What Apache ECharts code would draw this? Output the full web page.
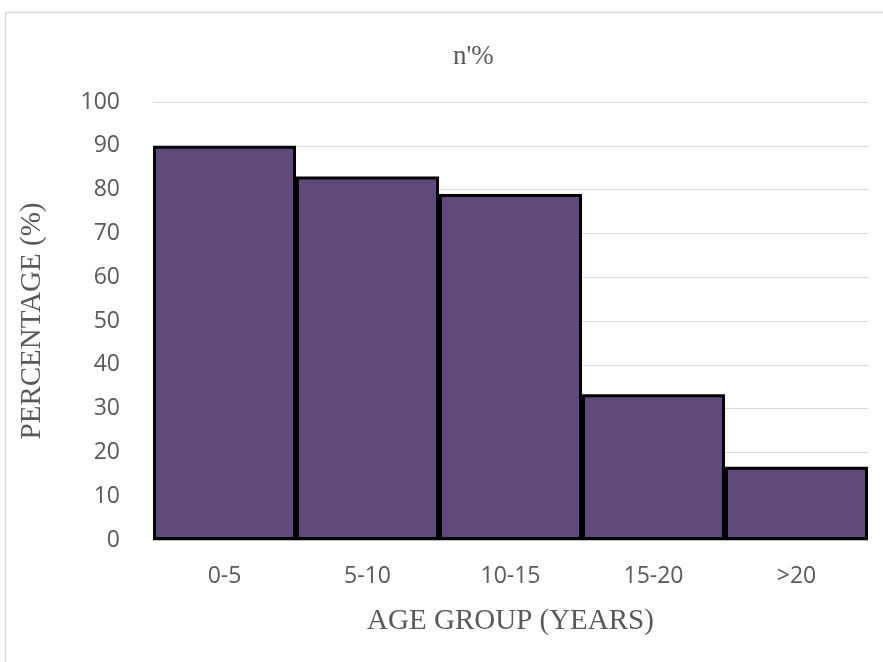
<!DOCTYPE html>
<html>
<head>
<meta charset="utf-8">
<script src="https://cdn.jsdelivr.net/npm/echarts@6/dist/echarts.min.js"></script>
<style>
  html, body { margin: 0; padding: 0; background: #fff; }
  #chart { width: 883px; height: 662px; }
</style>
</head>
<body>
<div id="chart"></div>
<script>
// Age groups and the share (%) in each
const categories = ['0-5', '5-10', '10-15', '15-20', '>20'];
const percentages = [90, 83, 79, 33.3, 16.7];
const yTicks = { min: 0, max: 100, interval: 10 };

const serif = 'Liberation Serif';
const sans = 'Open Sans';
const textGrey = '#595959';

const chart = echarts.init(document.getElementById('chart'));

chart.setOption({
  animation: false,
  backgroundColor: '#ffffff',
  graphic: [{
    type: 'rect',
    shape: { x: 5.5, y: 12.5, width: 900, height: 700 },
    style: { fill: 'none', stroke: '#d9d9d9', lineWidth: 1.5 },
    silent: true
  }],
  title: {
    text: "n'%",
    left: 448,
    top: 38,
    textStyle: { fontFamily: serif, fontSize: 27, fontWeight: 'normal', color: textGrey }
  },
  grid: { left: 153, right: 15, top: 102, bottom: 122, containLabel: false },
  xAxis: {
    type: 'category',
    data: categories,
    name: 'AGE GROUP (YEARS)',
    nameLocation: 'middle',
    nameGap: 67,
    nameTextStyle: { fontFamily: serif, fontSize: 29, color: textGrey },
    axisLine: { show: true, lineStyle: { color: '#bfbfbf', width: 1 } },
    axisTick: { show: false },
    axisLabel: { margin: 25, fontFamily: sans, fontSize: 23, color: textGrey }
  },
  yAxis: {
    type: 'value',
    min: yTicks.min,
    max: yTicks.max,
    interval: yTicks.interval,
    name: 'PERCENTAGE (%)',
    nameLocation: 'middle',
    nameGap: 106,
    nameTextStyle: { fontFamily: serif, fontSize: 29, color: textGrey },
    axisLine: { show: false },
    axisTick: { show: false },
    axisLabel: { margin: 33, fontFamily: sans, fontSize: 23, color: textGrey },
    splitLine: { lineStyle: { color: '#d9d9d9', width: 1 } }
  },
  series: [{
    type: 'bar',
    data: percentages,
    barCategoryGap: '0%',
    itemStyle: { color: '#604a7b', borderColor: '#000000', borderWidth: 3 }
  }]
});
</script>
</body>
</html>
